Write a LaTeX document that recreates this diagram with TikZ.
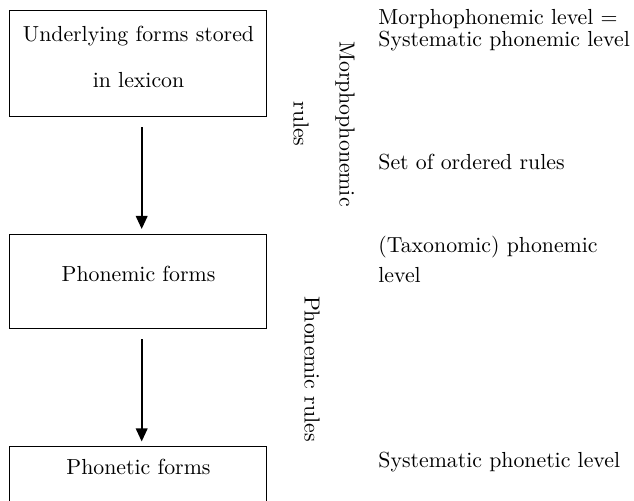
\documentclass[tikz,border=0pt]{standalone}
\usetikzlibrary{arrows.meta}
\begin{document}
\begin{tikzpicture}[x=0.5pt,y=-0.5pt]
		    \tikzstyle{every node}=[inner sep=0pt,font=\fontsize{10.9}{23}\selectfont]
		    \tikzstyle{formbox}=[draw,line width=0.5pt,minimum width=128.5pt]
		    \tikzstyle{boxtext}=[align=center,anchor=base]
		    \tikzstyle{sidelabel}=[align=center,rotate=-90]
		    \tikzstyle{note}=[align=left,anchor=base west,font=\fontsize{10.9}{11}\selectfont]
		    \tikzstyle{derive}=[-{Triangle[length=6.5pt,width=5.8pt]},line width=0.85pt,shorten <=5pt,shorten >=2.5pt]
		    \path[use as bounding box,clip] (0,0) rectangle (634,501);
		    \node[formbox,minimum height=53pt] (lexicon) at (138.5,64) {};
		    \node[formbox,minimum height=47.25pt] (phonemic) at (138.5,281.75) {};
		    \node[formbox,minimum height=50pt] (phonetic) at (138.5,497) {};
		    \node[boxtext] (lexicon text) at (138.5,88) {Underlying forms stored\\in lexicon};
		    \node[boxtext] (phonemic text) at (138.5,282) {Phonemic forms};
		    \node[boxtext] (phonetic text) at (138.5,475) {Phonetic forms};
		    \draw[derive] ([xshift=1.6pt]lexicon.south) -- ([xshift=1.6pt]phonemic.north);
		    \draw[derive] ([xshift=1.6pt]phonemic.south) -- ([xshift=1.6pt]phonetic.north);
		    \node[sidelabel] (morph rules) at (324,124) {Morphophonemic\\rules};
		    \node[sidelabel] (phon rules) at (312,369) {Phonemic rules};
		    \node[note] (deep) at (378,47) {Morphophonemic level =\\Systematic phonemic level};
		    \node[note] (ordered) at (378,170) {Set of ordered rules};
		    \node[note,font=\fontsize{10.9}{15}\selectfont] (taxonomic) at (378,283) {(Taxonomic) phonemic\\level};
		    \node[note] (surface) at (378,468) {Systematic phonetic level};
\end{tikzpicture}
\end{document}
